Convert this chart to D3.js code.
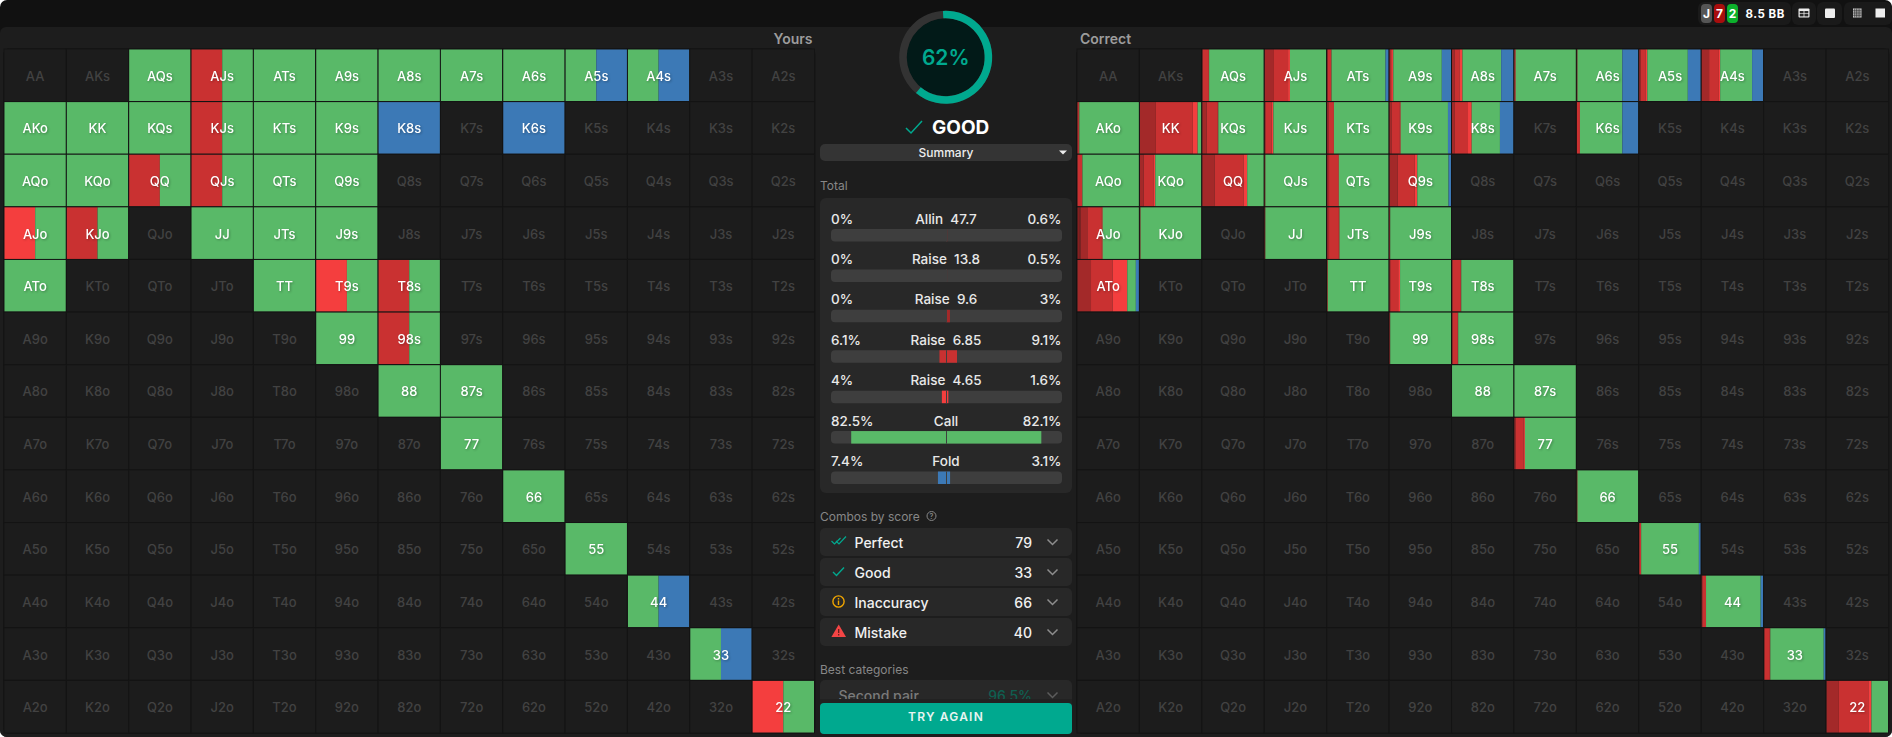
<!DOCTYPE html>
<html>
<head>
<meta charset="utf-8">
<script src="https://cdn.jsdelivr.net/npm/d3@7"></script>
<style>
html, body { margin: 0; padding: 0; background: #fff; overflow: hidden; }
svg { display: block; font-family: Inter, sans-serif; }
.on { filter: drop-shadow(1px 1px 0.8px rgba(0,0,0,.28)); }
</style>
</head>
<body>
<div id="my_dataviz"></div>
<script>
var ranks = ["A","K","Q","J","T","9","8","7","6","5","4","3","2"];
var actions = ["Allin","Raise 13.8","Raise 9.6","Raise 6.85","Raise 4.65","Call","Fold"];
var actionColors = ["#861f1f","#8f2323","#a32929","#c93131","#f43e3e","#59b968","#3c79b6"];

// hand, then % per action, same order as actions
var yoursMix = [
  ["AQs",0,0,0,0,0,100,0],["AJs",0,0,0,50,0,50,0],["ATs",0,0,0,0,0,100,0],["A9s",0,0,0,0,0,100,0],
  ["A8s",0,0,0,0,0,100,0],["A7s",0,0,0,0,0,100,0],["A6s",0,0,0,0,0,100,0],["A5s",0,0,0,0,0,50,50],
  ["A4s",0,0,0,0,0,50,50],["AKo",0,0,0,0,0,100,0],["KK",0,0,0,0,0,100,0],["KQs",0,0,0,0,0,100,0],
  ["KJs",0,0,0,50,0,50,0],["KTs",0,0,0,0,0,100,0],["K9s",0,0,0,0,0,100,0],["K8s",0,0,0,0,0,0,100],
  ["K6s",0,0,0,0,0,0,100],["AQo",0,0,0,0,0,100,0],["KQo",0,0,0,0,0,100,0],["QQ",0,0,0,50,0,50,0],
  ["QJs",0,0,0,50,0,50,0],["QTs",0,0,0,0,0,100,0],["Q9s",0,0,0,0,0,100,0],["AJo",0,0,0,0,50,50,0],
  ["KJo",0,0,0,50,0,50,0],["JJ",0,0,0,0,0,100,0],["JTs",0,0,0,0,0,100,0],["J9s",0,0,0,0,0,100,0],
  ["ATo",0,0,0,0,0,100,0],["TT",0,0,0,0,0,100,0],["T9s",0,0,0,0,50,50,0],["T8s",0,0,0,50,0,50,0],
  ["99",0,0,0,0,0,100,0],["98s",0,0,0,50,0,50,0],["88",0,0,0,0,0,100,0],["87s",0,0,0,0,0,100,0],
  ["77",0,0,0,0,0,100,0],["66",0,0,0,0,0,100,0],["55",0,0,0,0,0,100,0],["44",0,0,0,0,0,50,50],
  ["33",0,0,0,0,0,50,50],["22",0,0,0,0,50,50,0]
];

var correctMix = [
  ["AQs",0,0,1,9,1,89,0],["AJs",0,0,15,23,3,59,0],["ATs",0,0,1,6,0,88,5],["A9s",0,0,1,3,2,79,15],
  ["A8s",0,0,4,8,5,63,20],["A7s",0,0,0,1,1,98,0],["A6s",0,0,0,1,0,73,26],["A5s",0,0,2,8,3,66,21],
  ["A4s",0,0,12,16,2,52,18],["AKo",0,0,0,2,1,97,0],["KK",0,0,26,60,8,6,0],["KQs",0,0,7,18,1,74,0],
  ["KJs",0,0,1,10,3,86,0],["KTs",0,0,2,9,0,89,0],["K9s",0,0,3,13,2,77,5],["K8s",0,0,4,22,6,46,22],
  ["K6s",0,0,0,5,0,69,26],["AQo",0,0,0,8,0,92,0],["KQo",0,0,6,16,3,75,0],["QQ",0,0,20,47,6,27,0],
  ["QJs",0,0,0,1,0,99,0],["QTs",0,0,3,15,1,81,0],["Q9s",0,0,13,28,4,51,4],["AJo",3,2,11,23,2,59,0],
  ["KJo",0,0,0,1,0,99,0],["JJ",0,0,0,1,0,99,0],["JTs",0,0,3,16,1,80,0],["J9s",0,0,0,1,0,99,0],
  ["ATo",0,0,22,35,24,14,5],["TT",0,0,0,1,0,99,0],["T9s",0,0,1,13,3,83,0],["T8s",0,0,1,13,1,85,0],
  ["99",0,0,0,1,0,99,0],["98s",0,0,1,8,1,90,0],["88",0,0,0,0,0,100,0],["87s",0,0,0,0,0,100,0],
  ["77",0,0,2,13,2,83,0],["66",0,0,0,1,0,99,0],["55",0,0,0,3,0,94,3],["44",0,0,1,6,0,89,4],
  ["33",0,0,1,8,1,87,3],["22",0,0,20,48,5,27,0]
];

var score = 62;
var totalLabels = ["Allin\u00a0\u00a047.7","Raise\u00a0\u00a013.8","Raise\u00a0\u00a09.6","Raise\u00a0\u00a06.85","Raise\u00a0\u00a04.65","Call","Fold"];
var totalYours = [0,0,0,6.1,4,82.5,7.4];
var totalCorrect = [0.6,0.5,3,9.1,1.6,82.1,3.1];
var totalColors = ["#861f1f","#8f2323","#a32929","#c93131","#f43e3e","#59b968","#3c79b6"];
var comboLabels = ["Perfect","Good","Inaccuracy","Mistake"];
var comboValues = [79,33,66,40];

var width = 1892, height = 737;
var teal = "#00a98f";

var svg = d3.select("#my_dataviz").append("svg")
    .attr("width", width)
    .attr("height", height);

svg.append("rect").attr("width", width).attr("height", height).attr("rx", 7).attr("fill", "#111111");
svg.append("path")
    .attr("d", "M0 33a6 6 0 0 1 6-6H1886a6 6 0 0 1 6 6V730a7 7 0 0 1-7 7H7a7 7 0 0 1-7-7Z")
    .attr("fill", "#1d1d1d");

function hand_label(i, j) {
    if (i === j) return ranks[i] + ranks[j];
    return i < j ? ranks[i] + ranks[j] + "s" : ranks[j] + ranks[i] + "o";
}

function draw_grid(x0, x1, y0, y1, mix) {
    var byHand = new Map(mix.map(function(d) { return [d[0], d.slice(1)]; }));
    var x = d3.scaleBand().domain(d3.range(13)).range([x0, x1]);
    var y = d3.scaleBand().domain(d3.range(13)).range([y0, y1]);
    var inner = d3.scaleLinear().domain([0, 100]).range([0, x.bandwidth() - 1]);

    var cells = [];
    d3.range(13).forEach(function(i) {
        d3.range(13).forEach(function(j) {
            cells.push({row: i, col: j, hand: hand_label(i, j), mix: byHand.get(hand_label(i, j))});
        });
    });

    var grid = svg.append("g").attr("class", "grid");

    grid.append("rect")
        .attr("x", x0 - 0.5).attr("y", y0 - 0.5)
        .attr("width", x1 - x0 + 1).attr("height", y1 - y0 + 1)
        .attr("rx", 6)
        .attr("fill", "#1c1c1c")
        .attr("stroke", "#141414");

    var cell = grid.selectAll("g.cell")
        .data(cells)
        .enter()
        .append("g")
        .attr("class", "cell")
        .attr("transform", function(d) { return "translate(" + x(d.col) + "," + y(d.row) + ")"; });

    cell.append("rect")
        .attr("width", x.bandwidth())
        .attr("height", y.bandwidth())
        .attr("fill", "#1c1c1c")
        .attr("stroke", "#141414")
        .attr("stroke-width", 1);

    cell.filter(function(d) { return d.mix; })
        .selectAll("rect.seg")
        .data(function(d) {
            var ends = Array.from(d3.cumsum(d.mix));
            return d.mix.map(function(v, k) { return {v: v, end: ends[k], color: actionColors[k]}; })
                .filter(function(s) { return s.v > 0; });
        })
        .enter()
        .append("rect")
        .attr("class", "seg")
        .attr("x", function(s) { return 0.5 + inner(s.end - s.v); })
        .attr("y", 0.5)
        .attr("width", function(s) { return inner(s.v); })
        .attr("height", y.bandwidth() - 1)
        .attr("fill", function(s) { return s.color; });

    cell.append("text")
        .attr("class", function(d) { return d.mix ? "on" : "off"; })
        .attr("x", x.bandwidth() / 2)
        .attr("y", y.bandwidth() / 2 + 0.5)
        .attr("text-anchor", "middle")
        .attr("dominant-baseline", "central")
        .style("font-size", "13px")
        .style("font-weight", 500)
        .style("fill", function(d) { return d.mix ? "#ffffff" : "#424242"; })
        .text(function(d) { return d.hand; });
}

draw_grid(4, 814.5, 49, 733, yoursMix);
draw_grid(1077, 1888.5, 49, 733, correctMix);

function label(x, y, txt, size, weight, color, anchor) {
    return svg.append("text")
        .attr("x", x).attr("y", y)
        .attr("text-anchor", anchor || "start")
        .attr("dominant-baseline", "central")
        .style("font-size", size + "px")
        .style("font-weight", weight)
        .style("fill", color)
        .text(txt);
}

label(812.5, 38, "Yours", 14, 600, "#9c9c9c", "end");
label(1080, 38, "Correct", 14, 600, "#9c9c9c");

// score ring
var ring = svg.append("g").attr("transform", "translate(945.7,57.3)");
ring.append("circle").attr("r", 39).attr("fill", "#021a18");
ring.append("path")
    .attr("d", d3.arc().innerRadius(39).outerRadius(46.5).startAngle(0).endAngle(2 * Math.PI)())
    .attr("fill", "#333333");
ring.append("path")
    .attr("d", d3.arc().innerRadius(39).outerRadius(46.5).startAngle(-0.06)
        .endAngle(-0.06 + 2 * Math.PI * score / 100)())
    .attr("fill", teal);
ring.append("text")
    .attr("text-anchor", "middle")
    .attr("dominant-baseline", "central")
    .style("font-size", "21px")
    .style("font-weight", 600)
    .style("fill", teal)
    .text(score + "%");

svg.append("path")
    .attr("d", "M906 128l5 5 11-12")
    .attr("fill", "none").attr("stroke", teal).attr("stroke-width", 1.5);
label(932, 127.5, "GOOD", 19, 700, "#ffffff");

// summary select
svg.append("rect").attr("x", 820).attr("y", 144).attr("width", 252).attr("height", 17)
    .attr("rx", 5).attr("fill", "#343434");
label(946, 152, "Summary", 12, 500, "#eeeeee", "middle");
svg.append("path").attr("d", "M1059 150.5h8l-4 4Z").attr("fill", "#eeeeee");

label(820, 185.5, "Total", 12, 400, "#878787");

// total bars
svg.append("rect").attr("x", 820).attr("y", 198).attr("width", 252).attr("height", 295)
    .attr("rx", 6).attr("fill", "#282828");

var barY = d3.scaleLinear().domain([0, 6]).range([229, 471.5]);
var barX = d3.scaleLinear().domain([0, 100]).range([0, 115.5]);
var barMid = 946.5;

var rows = svg.append("g").selectAll("g")
    .data(totalLabels.map(function(t, i) {
        return {name: t, left: totalYours[i], right: totalCorrect[i], color: totalColors[i], i: i};
    }))
    .enter()
    .append("g")
    .attr("transform", function(d) { return "translate(0," + barY(d.i) + ")"; });

rows.append("rect")
    .attr("x", 831).attr("width", 231).attr("height", 12.5)
    .attr("rx", 4).attr("fill", "#3e3e3e");
rows.append("rect")
    .attr("x", function(d) { return barMid - barX(d.left); })
    .attr("width", function(d) { return barX(d.left); })
    .attr("height", 12.5)
    .attr("fill", function(d) { return d.color; });
rows.append("rect")
    .attr("x", barMid)
    .attr("width", function(d) { return barX(d.right); })
    .attr("height", 12.5)
    .attr("fill", function(d) { return d.color; });
rows.append("rect")
    .attr("x", barMid - 0.5).attr("width", 1).attr("height", 12.5)
    .attr("fill", "#3e3e3e");

[["left", 831, "start"], ["name", 946, "middle"], ["right", 1061.5, "end"]].forEach(function(col) {
    rows.append("text")
        .attr("x", col[1]).attr("y", -10.5)
        .attr("text-anchor", col[2])
        .attr("dominant-baseline", "central")
        .style("font-size", "13.5px")
        .style("font-weight", 500)
        .style("fill", "#e8e8e8")
        .text(function(d) { return col[0] === "name" ? d.name : d[col[0]] + "%"; });
});

// combos by score
label(820, 516, "Combos by score", 12, 400, "#878787");
svg.append("circle").attr("cx", 931.5).attr("cy", 516).attr("r", 4.5)
    .attr("fill", "none").attr("stroke", "#878787");
label(931.5, 516.3, "?", 7, 600, "#878787", "middle");

var comboY = d3.scaleLinear().domain([0, 3]).range([528, 618]);
var combos = svg.append("g").selectAll("g")
    .data(comboLabels.map(function(t, i) { return {name: t, value: comboValues[i], i: i}; }))
    .enter()
    .append("g")
    .attr("transform", function(d) { return "translate(0," + comboY(d.i) + ")"; });

combos.append("rect").attr("x", 820).attr("width", 252).attr("height", 28)
    .attr("rx", 5).attr("fill", "#282828");
combos.append("text")
    .attr("x", 854.5).attr("y", 14)
    .attr("dominant-baseline", "central")
    .style("font-size", "14px").style("font-weight", 500).style("fill", "#f0f0f0")
    .text(function(d) { return d.name; });
combos.append("text")
    .attr("x", 1032).attr("y", 14)
    .attr("text-anchor", "end")
    .attr("dominant-baseline", "central")
    .style("font-size", "14px").style("font-weight", 500).style("fill", "#f0f0f0")
    .text(function(d) { return d.value; });
combos.append("path")
    .attr("d", "M1047.5 11.5l5 5 5-5")
    .attr("fill", "none").attr("stroke", "#8d8d8d").attr("stroke-width", 1.5);

// score icons
var ic = svg.append("g");
ic.append("path").attr("d", "M831.5 541l3 3 6-6M836 541l3 3 7-7.5")
    .attr("fill", "none").attr("stroke", teal).attr("stroke-width", 1.2);
ic.append("path").attr("d", "M833 572l3.5 3.5 7.5-8")
    .attr("fill", "none").attr("stroke", teal).attr("stroke-width", 1.4);
ic.append("circle").attr("cx", 838.5).attr("cy", 601.5).attr("r", 5.6)
    .attr("fill", "none").attr("stroke", "#f0a500").attr("stroke-width", 1.4);
ic.append("path").attr("d", "M838.5 598v1.4M838.5 600.5v4.5")
    .attr("stroke", "#f0a500").attr("stroke-width", 1.4);
ic.append("path").attr("d", "M838.7 624.5l7.3 12.5h-14.6Z").attr("fill", "#f44545");
ic.append("path").attr("d", "M838.7 629v4M838.7 634v1.4").attr("stroke", "#5a1a1a").attr("stroke-width", 1.2);

// best categories, faded under the button
label(820, 669, "Best categories", 12, 400, "#878787");
svg.append("rect").attr("x", 820).attr("y", 680).attr("width", 252).attr("height", 30)
    .attr("rx", 5).attr("fill", "#282828");
label(838.5, 695, "Second pair", 14, 500, "#7a7a7a");
label(1032, 695, "96.5%", 14, 500, "#0f5f50", "end");
svg.append("path").attr("d", "M1047.5 692.5l5 5 5-5")
    .attr("fill", "none").attr("stroke", "#5c5c5c").attr("stroke-width", 1.5);
svg.append("rect").attr("x", 820).attr("y", 699).attr("width", 252).attr("height", 6).attr("fill", "#222222");

svg.append("rect").attr("x", 820).attr("y", 703).attr("width", 252).attr("height", 31)
    .attr("rx", 4).attr("fill", teal);
label(946, 716.5, "TRY AGAIN", 12, 600, "#e8f5f2", "middle").style("letter-spacing", "1.2px");

// top right controls
var top_bar = svg.append("g");
[[1698, 93], [1792, 24], [1817, 25], [1844, 48]].forEach(function(b) {
    top_bar.append("rect").attr("x", b[0]).attr("y", 2).attr("width", b[1]).attr("height", 23)
        .attr("rx", 6).attr("fill", "#1a1a1a");
});
[[1701, "#555555", "J"], [1714, "#a80d0d", "7"], [1727, "#0cb02c", "2"]].forEach(function(c) {
    top_bar.append("rect").attr("x", c[0]).attr("y", 4).attr("width", 11).attr("height", 19)
        .attr("rx", 4).attr("fill", c[1]);
    top_bar.append("text").attr("x", c[0] + 5.5).attr("y", 13.5)
        .attr("text-anchor", "middle").attr("dominant-baseline", "central")
        .style("font-size", "12px").style("font-weight", 700).style("fill", "#fff").text(c[2]);
});
top_bar.append("text").attr("x", 1745.5).attr("y", 13.5)
    .attr("dominant-baseline", "central")
    .style("font-size", "11.5px").style("font-weight", 700).style("fill", "#fff")
    .style("letter-spacing", "0.5px")
    .text("8.5 BB");

top_bar.append("rect").attr("x", 1798.5).attr("y", 8.5).attr("width", 11).attr("height", 9).attr("rx", 1).attr("fill", "#eeeeee");
top_bar.append("rect").attr("x", 1799.7).attr("y", 11).attr("width", 3.9).attr("height", 2.4).attr("fill", "#2a2a2a");
top_bar.append("rect").attr("x", 1804.4).attr("y", 11).attr("width", 3.9).attr("height", 2.4).attr("fill", "#2a2a2a");
top_bar.append("rect").attr("x", 1799.7).attr("y", 14).attr("width", 3.9).attr("height", 2.4).attr("fill", "#2a2a2a");
top_bar.append("rect").attr("x", 1804.4).attr("y", 14).attr("width", 3.9).attr("height", 2.4).attr("fill", "#2a2a2a");
top_bar.append("rect").attr("x", 1825).attr("y", 8.5).attr("width", 10).attr("height", 9.5).attr("rx", 1).attr("fill", "#eeeeee");
top_bar.append("rect").attr("x", 1853).attr("y", 8.5).attr("width", 8.5).attr("height", 9).attr("fill", "#dddddd");
top_bar.append("path").attr("d", "M1854.7 8.5v9M1856.4 8.5v9M1858.1 8.5v9M1859.8 8.5v9M1853 10.3h8.5M1853 12.1h8.5M1853 13.9h8.5M1853 15.7h8.5").attr("stroke", "#1a1a1a").attr("stroke-width", 0.6);
top_bar.append("rect").attr("x", 1875.5).attr("y", 8.5).attr("width", 9.5).attr("height", 9).attr("fill", "#eeeeee");
</script>
</body>
</html>
